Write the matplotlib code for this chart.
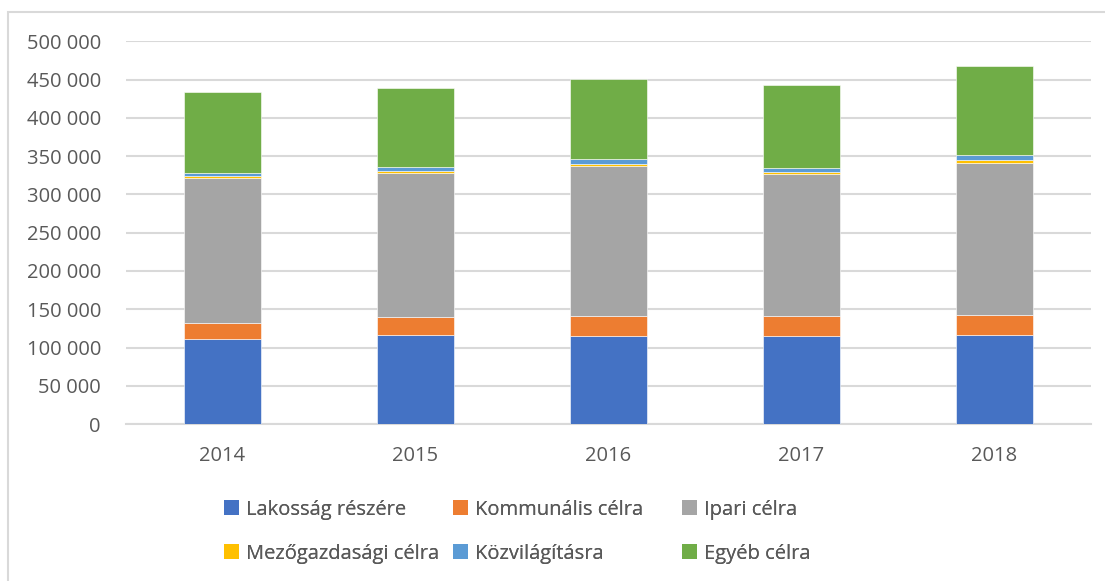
import numpy as np
import matplotlib
matplotlib.use('Agg')
import matplotlib.pyplot as plt
from matplotlib.ticker import FuncFormatter
from matplotlib.patches import Rectangle, Patch

plt.rcParams['font.family'] = ['Open Sans', 'DejaVu Sans']

years = ['2014', '2015', '2016', '2017', '2018']
labels = ['Lakosság részére', 'Kommunális célra', 'Ipari célra',
          'Mezőgazdasági célra', 'Közvilágításra', 'Egyéb célra']
lakossag = [110800, 115800, 115300, 114500, 115800]
kommunalis = [21000, 23500, 26100, 26900, 26500]
ipari = [189600, 188800, 195800, 185400, 199300]
mezogazdasagi = [2300, 2600, 3100, 3100, 3400]
kozvilagitas = [3900, 4800, 5300, 4700, 6200]
egyeb = [105700, 103200, 104800, 108000, 116200]
colors = ['#4472C4', '#ED7D31', '#A5A5A5', '#FFC000', '#5B9BD5', '#70AD47']

series = [lakossag, kommunalis, ipari, mezogazdasagi, kozvilagitas, egyeb]
txt = '#595959'
grid = '#d9d9d9'

fig = plt.figure(figsize=(11.05, 5.81), dpi=100)
ax = fig.add_axes([0.114, 0.27, 0.873, 0.659])

x = np.arange(len(years))
bottom = np.zeros(len(years))
for vals, lab, c in zip(series, labels, colors):
    ax.bar(x, vals, 0.4, bottom=bottom, color=c, label=lab,
           edgecolor='white', linewidth=0.4, zorder=3)
    bottom += np.array(vals)

ax.set_xlim(-0.5, len(years) - 0.5)
ax.set_ylim(0, 500000)
ax.set_yticks(np.arange(0, 500001, 50000))
ax.yaxis.set_major_formatter(FuncFormatter(lambda v, p: f'{int(v):,}'.replace(',', ' ')))
ax.set_xticks(x)
ax.set_xticklabels(years)
ax.grid(axis='y', color=grid, linewidth=1.5, zorder=0)
for s in ['top', 'right', 'left']:
    ax.spines[s].set_visible(False)
ax.spines['bottom'].set_color(grid)
ax.spines['bottom'].set_linewidth(1.5)
ax.tick_params(axis='both', length=0, labelsize=14.5, colors=txt)
ax.tick_params(axis='y', pad=18)
ax.tick_params(axis='x', pad=16)

# legend: three columns placed at fixed positions
handles = [Patch(facecolor=c) for c in colors]
col_x = [0.203, 0.410, 0.617]
for i, cx in enumerate(col_x):
    idx = [i, i + 3]
    leg = fig.legend([handles[j] for j in idx], [labels[j] for j in idx],
                     loc='upper left', bbox_to_anchor=(cx, 0.140),
                     frameon=False, fontsize=14.5, labelcolor=txt,
                     handlelength=0.75, handleheight=0.75, handletextpad=0.35,
                     labelspacing=1.2, borderaxespad=0, borderpad=0)
    fig.add_artist(leg)

# chart area border
fig.add_artist(Rectangle((8 / 1105, -0.05), 1.1, 1 - 12 / 581 + 0.05,
                         transform=fig.transFigure, fill=False,
                         edgecolor=grid, linewidth=1.5))

fig.savefig('out.png', dpi=100)
